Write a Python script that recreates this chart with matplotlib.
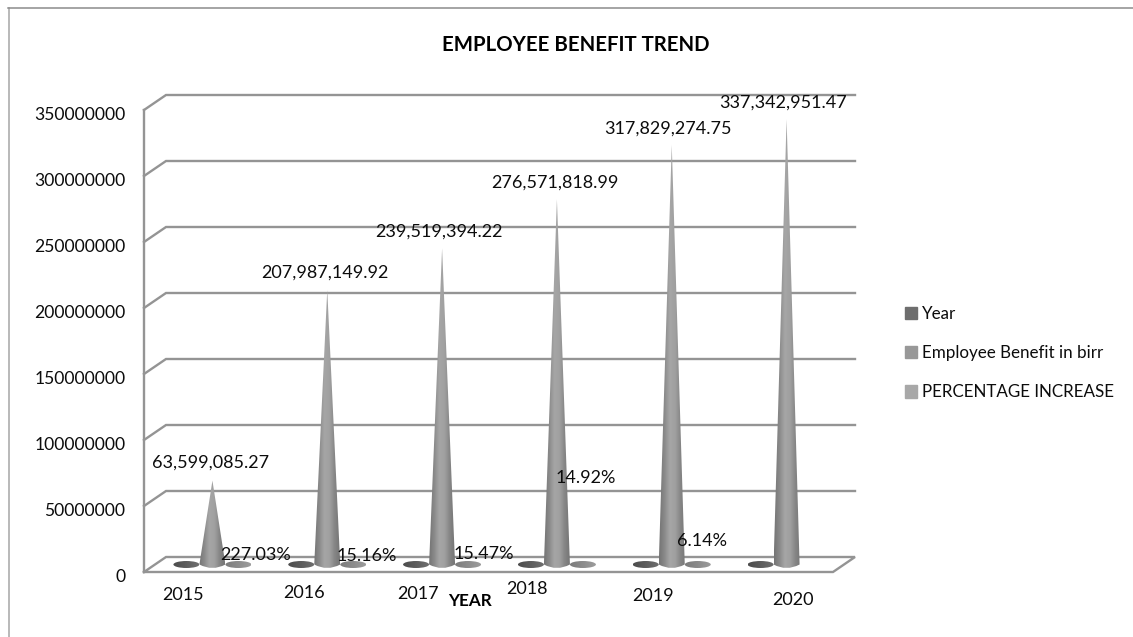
"""Employee benefit trend: Excel-style 3D cone chart drawn with plain matplotlib."""
import matplotlib
matplotlib.use('Agg')

import matplotlib.pyplot as plt
import numpy as np
from matplotlib.colors import LinearSegmentedColormap
from matplotlib.lines import Line2D
from matplotlib.patches import Ellipse, Patch, PathPatch
from matplotlib.path import Path
from matplotlib.transforms import ScaledTranslation

plt.rcParams['font.family'] = ['Lato', 'DejaVu Sans']

W, H = 1133, 637

# ---------------------------------------------------------------------------
# Data
# ---------------------------------------------------------------------------
years = ['2015', '2016', '2017', '2018', '2019', '2020']
benefit = [63599085.27, 207987149.92, 239519394.22, 276571818.99, 317829274.75, 337342951.47]
pct_increase = [227.03, 15.16, 15.47, 14.92, 6.14]
y_ticks = [0, 50000000, 100000000, 150000000, 200000000, 250000000, 300000000, 350000000]
legend_labels = ['Year', 'Employee Benefit in birr', 'PERCENTAGE INCREASE']

# hand-placed label centres, pixels from top left
benefit_label_xy = [(211, 463), (325, 273), (439, 232), (555, 183), (668, 129), (783, 103)]
pct_label_xy = [(256, 555), (367, 556), (484, 554), (586, 478), (702, 541)]
year_label_xy = [(183, 595), (304, 593), (418, 594), (527, 589), (653, 596), (793, 600)]

# ---------------------------------------------------------------------------
# Layout
# ---------------------------------------------------------------------------
PLOT_L, PLOT_R, PLOT_T, PLOT_B = 144, 833, 110, 572
CAT_PX = (PLOT_R - PLOT_L) / len(years)
VAL_PX = (PLOT_B - PLOT_T) / y_ticks[-1]

# depth of the box, in data units
DEPTH_X = 22 / CAT_PX
DEPTH_Y = 15 / VAL_PX

GRID = '#949494'
INK = '#0c0c0c'
FONT = 13


def px(x, y):
    return x / W, 1 - y / H


fig = plt.figure(figsize=(W / 100, H / 100), dpi=100, facecolor='white')
ax = fig.add_axes([PLOT_L / W, 1 - PLOT_B / H, (PLOT_R - PLOT_L) / W, (PLOT_B - PLOT_T) / H])
ax.patch.set_alpha(0)
ax.set_xlim(0, len(years))
ax.set_ylim(0, y_ticks[-1])
for sp in ax.spines.values():
    sp.set_visible(False)
ax.set_xticks([])
ax.set_yticks(y_ticks)
ax.set_yticklabels([str(v) for v in y_ticks], fontsize=12.6, color=INK)
ax.tick_params(axis='y', length=0, pad=13.5)
tick_shift = ScaledTranslation(0, -2.2 / 72, fig.dpi_scale_trans)
for label in ax.get_yticklabels():
    label.set_transform(label.get_transform() + tick_shift)

# outer frame, only top and left are there
fig.add_artist(Line2D([8.5 / W, 8.5 / W], [0, 1 - 8 / H], color='#a6a6a6', lw=1.1))
fig.add_artist(Line2D([8 / W, 1], [1 - 8 / H, 1 - 8 / H], color='#8c8c8c', lw=1.1))

# ---------------------------------------------------------------------------
# Walls and floor
# ---------------------------------------------------------------------------
line_kw = dict(color=GRID, lw=1.7, solid_joinstyle='miter', clip_on=False, zorder=1)
n = len(years)
for v in y_ticks[1:]:
    ax.plot([0, DEPTH_X, n + DEPTH_X], [v, v + DEPTH_Y, v + DEPTH_Y], **line_kw)
ax.plot([0, 0], [0, y_ticks[-1]], **line_kw)
ax.plot([0, n, n + DEPTH_X, DEPTH_X, 0], [0, 0, DEPTH_Y, DEPTH_Y, 0], **line_kw)

# ---------------------------------------------------------------------------
# Cones and flat disks
# ---------------------------------------------------------------------------
cone_cmap = LinearSegmentedColormap.from_list(
    'cone', ['#747474', '#8a8a8a', '#a6a6a6', '#a0a0a0', '#868686', '#757575'])
dark_cmap = LinearSegmentedColormap.from_list('dark', ['#4c4c4c', '#6e6e6e'])
light_cmap = LinearSegmentedColormap.from_list('light', ['#7c7c7c', '#9c9c9c'])
ramp = np.linspace(0, 1, 64).reshape(1, -1)


def shaded(clip, x0, x1, y0, y1, cmap, zorder):
    """Fill a horizontal grey ramp and clip it to the given patch."""
    clip.set(facecolor='none', edgecolor='none', zorder=zorder, clip_on=False)
    ax.add_patch(clip)
    im = ax.imshow(ramp, extent=(x0, x1, y0, y1), aspect='auto', cmap=cmap,
                   zorder=zorder, interpolation='bilinear', clip_on=True)
    im.set_clip_path(clip)


BASE_X = 13 / CAT_PX
BASE_Y = 3.5 / VAL_PX
LIFT = DEPTH_Y / 2
DISK_W = 26 / CAT_PX
DISK_H = 7 / VAL_PX
DISK_OFF = 26 / CAT_PX
MOVETO, LINETO, CURVE = Path.MOVETO, Path.LINETO, Path.CURVE3

for i, val in enumerate(benefit):
    cx = i + 0.5 + DEPTH_X / 2

    left = Ellipse((cx - DISK_OFF, LIFT), DISK_W, DISK_H)
    shaded(left, cx - DISK_OFF - DISK_W / 2, cx - DISK_OFF + DISK_W / 2,
           LIFT - DISK_H, LIFT + DISK_H, dark_cmap, 2)

    if i < len(pct_increase):
        right = Ellipse((cx + DISK_OFF, LIFT), DISK_W, DISK_H)
        shaded(right, cx + DISK_OFF - DISK_W / 2, cx + DISK_OFF + DISK_W / 2,
               LIFT - DISK_H, LIFT + DISK_H, light_cmap, 2)

    # cone side with a rounded base
    verts = [(cx - BASE_X, LIFT), (cx, val + LIFT), (cx + BASE_X, LIFT),
             (cx, LIFT - 2 * BASE_Y), (cx - BASE_X, LIFT), (cx - BASE_X, LIFT)]
    codes = [MOVETO, LINETO, LINETO, CURVE, CURVE, Path.CLOSEPOLY]
    cone = PathPatch(Path(verts, codes))
    shaded(cone, cx - BASE_X, cx + BASE_X, LIFT - 2 * BASE_Y, val + LIFT, cone_cmap, 3)

# imshow can move the limits around
ax.set_xlim(0, len(years))
ax.set_ylim(0, y_ticks[-1])

# ---------------------------------------------------------------------------
# Text
# ---------------------------------------------------------------------------
text_kw = dict(ha='center', va='center', fontsize=FONT, color=INK, zorder=10)
for val, xy in zip(benefit, benefit_label_xy):
    fig.text(*px(*xy), f'{val:,.2f}', **text_kw)
for val, xy in zip(pct_increase, pct_label_xy):
    fig.text(*px(*xy), f'{val:.2f}%', **text_kw)
for yr, xy in zip(years, year_label_xy):
    fig.text(*px(*xy), yr, **text_kw)

fig.text(*px(576, 45), 'EMPLOYEE BENEFIT TREND', ha='center', va='center',
         fontsize=14.7, fontweight='bold', color='black')
fig.text(*px(470, 601), 'YEAR', ha='center', va='center',
         fontsize=12.3, fontweight='bold', color='black')

handles = [Patch(color=c) for c in ('#6e6e6e', '#989898', '#a8a8a8')]
fig.legend(handles, legend_labels, loc='center left', bbox_to_anchor=px(896, 353),
           frameon=False, fontsize=12.25, handlelength=0.72, handleheight=0.72,
           handletextpad=0.3, labelspacing=1.38, borderpad=0, labelcolor=INK)

fig.savefig('out.png', dpi=100)
plt.close(fig)
